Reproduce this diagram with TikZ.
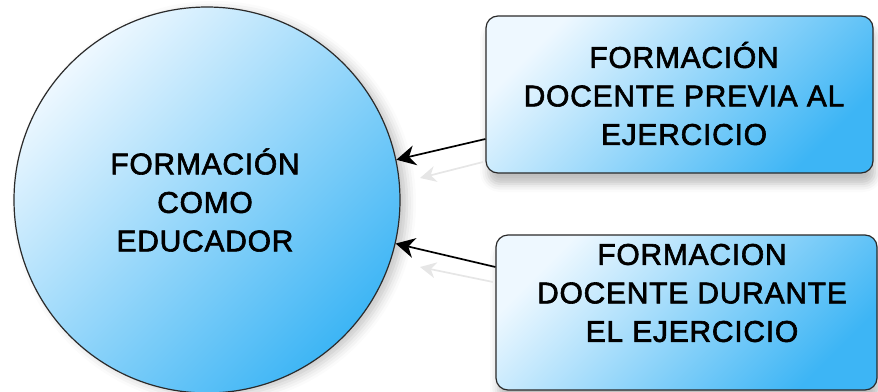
\documentclass[tikz,border=0pt]{standalone}
\usepackage{fontspec}
\setmainfont{Liberation Sans}[LetterSpace=2.5, FakeBold=2]
\usetikzlibrary{arrows.meta,shadows.blur,calc}

\definecolor{shadelight}{HTML}{EEF8FF}
\definecolor{shadedark}{HTML}{3DB5F5}
\definecolor{edgegray}{HTML}{2A2A2A}
\definecolor{ghostgray}{HTML}{E6E6E6}

\tikzset{
  softfill/.style={top color=shadelight, bottom color=shadedark, shading angle=45},
  bubble/.style={circle, draw=edgegray, line width=1.2pt, softfill,
    minimum size=386pt, inner sep=0pt,
    blur shadow={shadow xshift=7pt, shadow yshift=-3pt, shadow blur radius=9pt, shadow opacity=22}},
  card/.style={rectangle, rounded corners=12pt, draw=edgegray, line width=1.2pt, softfill,
    inner sep=0pt,
    blur shadow={shadow xshift=2pt, shadow yshift=-11pt, shadow blur radius=8pt, shadow opacity=25}},
  label/.style={align=center, font=\fontsize{30}{38.5}\selectfont, text=black, inner sep=0pt},
  link/.style={draw=black, line width=1.7pt, -{Stealth[length=19pt,width=20pt,inset=6pt]}},
  ghost/.style={draw=ghostgray, line width=1.7pt, -{Stealth[length=16pt,width=16pt,inset=5pt]}}
}

\begin{document}
\begin{tikzpicture}[x=1pt,y=-1pt]
  \useasboundingbox (0,0) rectangle (878,391);

  % central topic
  \node[bubble] (edu) at (207,200) {};
  \node[label] (edut) at (205,200) {FORMACIÓN\\COMO\\EDUCADOR};

  % the two kinds of training
  \node[card, minimum width=387pt, minimum height=157pt] (prev) at (679.5,94.5) {};
  \node[label] (prevt) at (684,93.5) {FORMACIÓN\\DOCENTE PREVIA AL\\EJERCICIO};

  \node[card, minimum width=381pt, minimum height=155pt] (dur) at (686.5,312.5) {};
  \node[label] (durt) at (692,293) {FORMACION\\DOCENTE DURANTE\\EL EJERCICIO};

  % faint reflections under the connectors
  \coordinate (g1a) at (483,162);
  \coordinate (g1b) at (420,178);
  \coordinate (g2a) at (493,282);
  \coordinate (g2b) at (420,267);
  \draw[ghost] (g1a) -- (g1b);
  \draw[ghost] (g2a) -- (g2b);

  % connectors into the circle
  \draw[link] ([yshift=-44.5pt]prev.west) -- (edu.12.5);
  \draw[link] ([yshift=45.5pt]dur.west) -- (edu.-13.4);
\end{tikzpicture}
\end{document}
